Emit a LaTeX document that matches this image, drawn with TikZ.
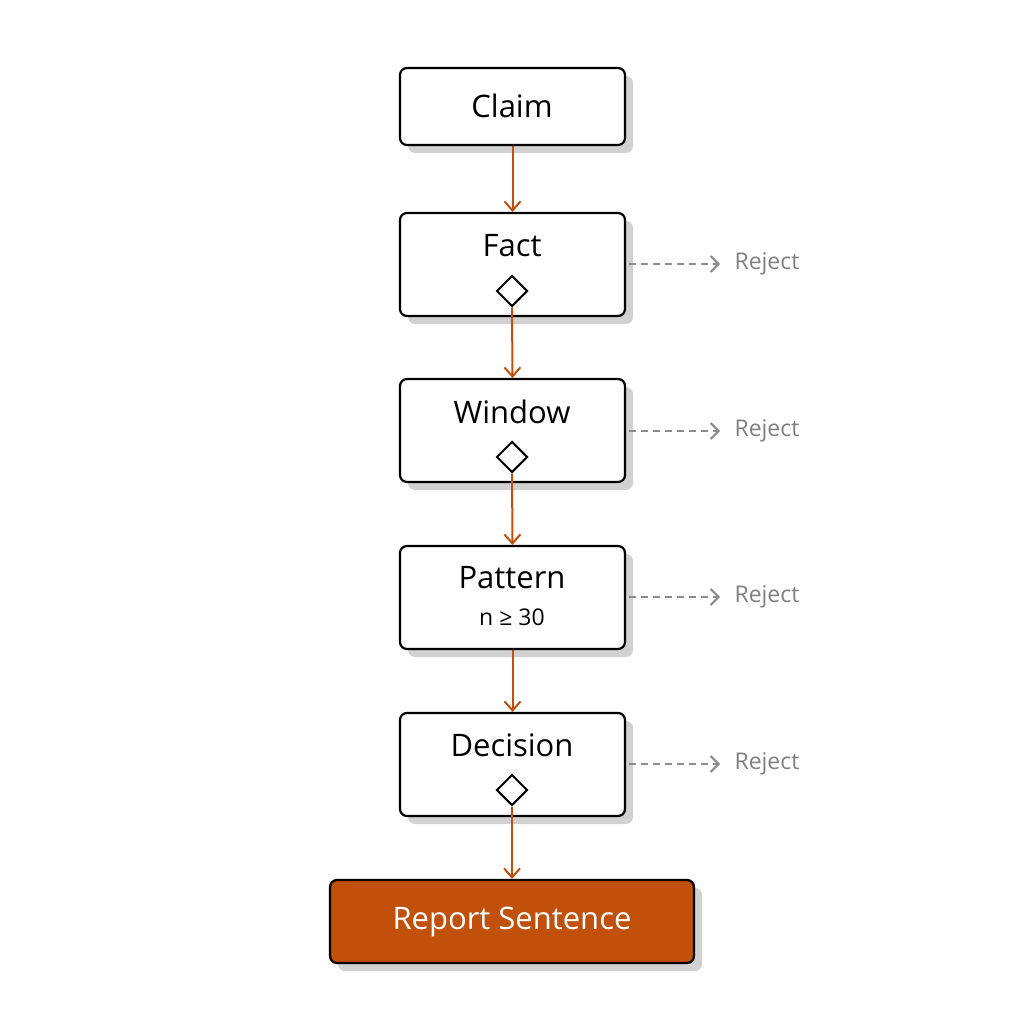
\documentclass[tikz,border=0pt]{standalone}
\usepackage{fontspec}
\setmainfont{Open Sans}
\usetikzlibrary{arrows.meta,shapes.geometric}
\definecolor{org}{HTML}{C0500A}
\begin{document}
\begin{tikzpicture}[x=1pt,y=-1pt,
 box/.style={draw=black,line width=2.2pt,rounded corners=7pt,fill=white},
 shad/.style={fill=black!18,rounded corners=7pt},
 flow/.style={draw=org,line width=2pt,-{Straight Barb[length=9pt,width=16pt]}},
 rej/.style={draw=black!45,line width=2pt,dash pattern=on 7pt off 5pt,-{Straight Barb[length=8pt,width=16pt]}},
 rt/.style={text=black!50,font=\fontsize{23}{27}\selectfont,anchor=west},
 dia/.style={diamond,draw=black,line width=2pt,fill=white,minimum size=31pt,inner sep=0pt},
 ttl/.style={font=\fontsize{31}{36}\selectfont}]
\useasboundingbox (0,0) rectangle (1024,1024);
% shadows
\foreach \t/\b in {68/145,213/316,379/482,546/649,713/816}
  \fill[shad] (408,\t+8) rectangle (633,\b+8);
\fill[shad] (338,888) rectangle (702,971);
% boxes
\node[box,minimum width=225pt,minimum height=77pt] (claim) at (512.5,106.5) {};
\node[ttl] at (512,106) {Claim};
\node[box,minimum width=225pt,minimum height=103pt] (fact) at (512.5,264.5) {};
\node[ttl] at (512,246) {Fact};
\node[dia] (d1) at (512,291) {};
\node[box,minimum width=225pt,minimum height=103pt] (win) at (512.5,430.5) {};
\node[ttl] at (512,412) {Window};
\node[dia] (d2) at (512,457) {};
\node[box,minimum width=225pt,minimum height=103pt] (pat) at (512.5,597.5) {};
\node[ttl] at (512,578) {Pattern};
\node[font=\fontsize{23}{27}\selectfont] at (512,617) {n ≥ 30};
\node[box,minimum width=225pt,minimum height=103pt] (dec) at (512.5,764.5) {};
\node[ttl] at (512,745) {Decision};
\node[dia] (d3) at (512,790) {};
\node[box,fill=org,minimum width=364pt,minimum height=83pt] (rep) at (512,921.5) {};
\node[ttl,text=white] at (512,922) {Report Sentence};
% flow
\draw[flow] (claim.south) -- (fact.north);
\draw[flow] (d1.south) -- (win.north);
\draw[flow] (d2.south) -- (pat.north);
\draw[flow] (pat.south) -- (dec.north);
\draw[flow] (d3.south) -- (rep.north);
% rejects
\foreach \n/\y [count=\i] in {fact/264,win/431,pat/597,dec/764}{
  \coordinate (r\i) at (720,\y);
  \draw[rej] (\n.east|-r\i) ++(3,0) -- (r\i);
  \node[rt] at (731,\y) {Reject};
}
\end{tikzpicture}
\end{document}
